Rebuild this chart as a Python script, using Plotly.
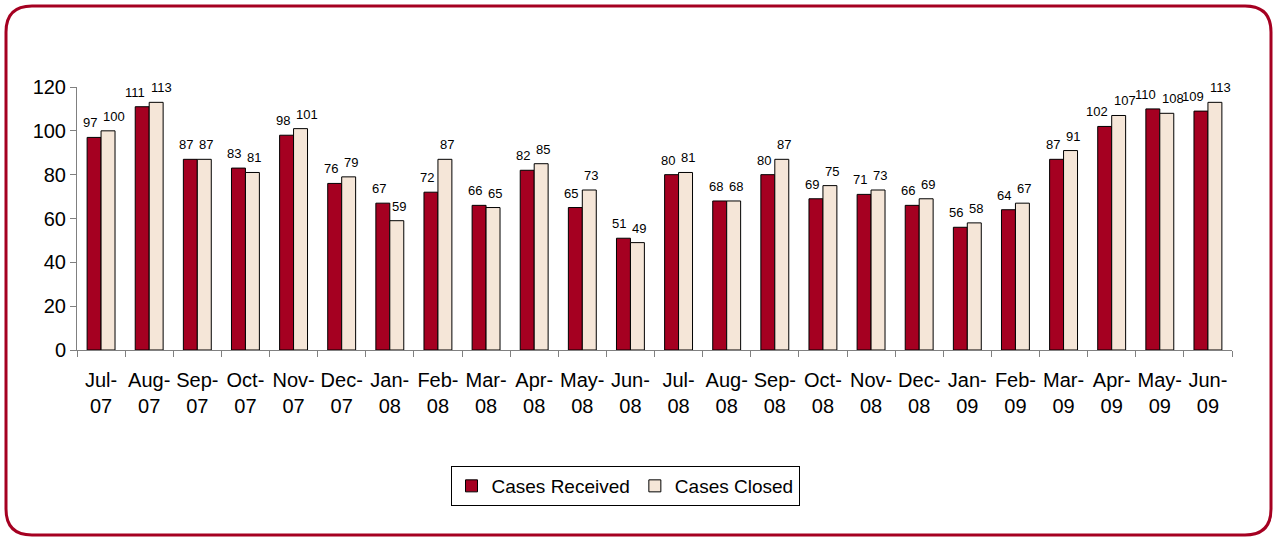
import plotly.graph_objects as go

# monthly case counts
months = ["Jul-<br>07", "Aug-<br>07", "Sep-<br>07", "Oct-<br>07", "Nov-<br>07", "Dec-<br>07",
          "Jan-<br>08", "Feb-<br>08", "Mar-<br>08", "Apr-<br>08", "May-<br>08", "Jun-<br>08",
          "Jul-<br>08", "Aug-<br>08", "Sep-<br>08", "Oct-<br>08", "Nov-<br>08", "Dec-<br>08",
          "Jan-<br>09", "Feb-<br>09", "Mar-<br>09", "Apr-<br>09", "May-<br>09", "Jun-<br>09"]
received = [97, 111, 87, 83, 98, 76, 67, 72, 66, 82, 65, 51,
            80, 68, 80, 69, 71, 66, 56, 64, 87, 102, 110, 109]
closed = [100, 113, 87, 81, 101, 79, 59, 87, 65, 85, 73, 49,
          81, 68, 87, 75, 73, 69, 58, 67, 91, 107, 108, 113]

W, H = 1276, 540
L, R, T, B = 77, 44, 87, 190
RED = "#A50021"
BEIGE = "#F5E6D8"
FONT = "Liberation Sans, Arial, sans-serif"

fig = go.Figure()
fig.add_trace(go.Bar(x=months, y=received, name="Cases Received",
                     marker=dict(color=RED, line=dict(color="black", width=1))))
fig.add_trace(go.Bar(x=months, y=closed, name="Cases Closed",
                     marker=dict(color=BEIGE, line=dict(color="black", width=1))))

# value labels: left one hugs the category centre from the left, right one from the right
for m, a, b in zip(months, received, closed):
    fig.add_annotation(x=m, y=a, text=str(a), showarrow=False, yanchor="bottom",
                       xanchor="right", xshift=-3, yshift=6, borderpad=0,
                       font=dict(size=13, color="black"))
    fig.add_annotation(x=m, y=b, text=str(b), showarrow=False, yanchor="bottom",
                       xanchor="left", xshift=1, yshift=6, borderpad=0,
                       font=dict(size=13, color="black"))

# rounded outer frame, drawn in paper coords
pw, ph = W - L - R, H - T - B
def px(x): return (x - L) / pw
def py(y): return (H - B - y) / ph
x0, x1, y0, y1, r = 6, 1271, 6, 535, 26
path = (f"M {px(x0 + r)},{py(y0)} L {px(x1 - r)},{py(y0)} "
        f"Q {px(x1)},{py(y0)} {px(x1)},{py(y0 + r)} L {px(x1)},{py(y1 - r)} "
        f"Q {px(x1)},{py(y1)} {px(x1 - r)},{py(y1)} L {px(x0 + r)},{py(y1)} "
        f"Q {px(x0)},{py(y1)} {px(x0)},{py(y1 - r)} L {px(x0)},{py(y0 + r)} "
        f"Q {px(x0)},{py(y0)} {px(x0 + r)},{py(y0)} Z")
fig.add_shape(type="path", path=path, xref="paper", yref="paper",
              line=dict(color=RED, width=3), layer="below")

fig.update_layout(
    width=W, height=H,
    margin=dict(l=L, r=R, t=T, b=B),
    plot_bgcolor="white", paper_bgcolor="white",
    font=dict(family=FONT, color="black"),
    barmode="group", bargap=0.42, bargroupgap=0,
    showlegend=True,
    legend=dict(orientation="h", x=px(625), y=py(466), xanchor="center", yanchor="top",
                bordercolor="black", borderwidth=1, font=dict(size=19),
                itemwidth=30, traceorder="normal"),
)
fig.update_xaxes(showline=True, linecolor="#808080", linewidth=1, tickangle=0,
                 ticks="outside", tickson="boundaries", ticklen=6, tickcolor="#808080",
                 tickfont=dict(size=20), showgrid=False, ticklabelstandoff=12)
fig.update_yaxes(range=[0, 120], dtick=20, showline=True, linecolor="#808080", linewidth=1,
                 ticks="outside", ticklen=6, tickcolor="#808080",
                 tickfont=dict(size=20), showgrid=False, zeroline=False)

fig.write_html("out.html", config={"displayModeBar": False},
               post_script="document.body.style.margin='0';")
